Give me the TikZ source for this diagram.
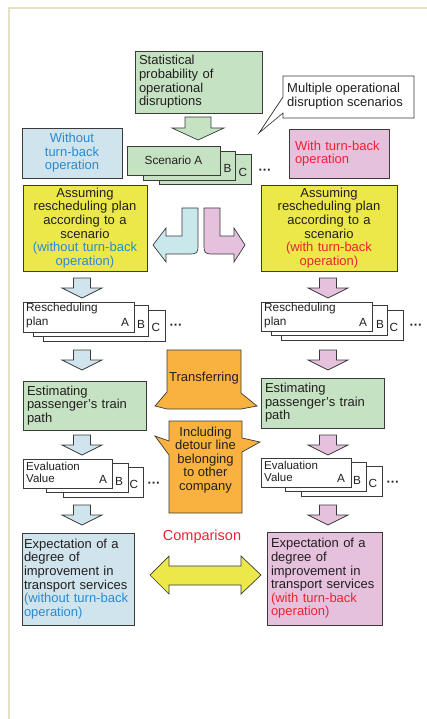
\documentclass[tikz,border=0pt]{standalone}
\usepackage{fontspec}
\setmainfont{Liberation Sans}
\usepackage{xcolor}
\usepackage{tikz}
\usetikzlibrary{positioning,calc}

\definecolor{framebeige}{HTML}{E6E1C6}
\definecolor{edge}{HTML}{3A3A3A}
\definecolor{ink}{HTML}{231F20}
\definecolor{stgreen}{HTML}{C5E3C2}
\definecolor{lblue}{HTML}{CFE4EC}
\definecolor{bentblue}{HTML}{C9E8EC}
\definecolor{lpink}{HTML}{E5C1DD}
\definecolor{yell}{HTML}{ECE84A}
\definecolor{orng}{HTML}{F9B13F}
\definecolor{tblue}{HTML}{2B8AD2}
\definecolor{tred}{HTML}{EE2233}

\newcommand{\mainfs}{\fontsize{13}{13.6}\selectfont}
\newcommand{\cardfs}{\fontsize{11.8}{13.6}\selectfont}
\newcommand{\evalfs}{\fontsize{11.5}{12}\selectfont}
% small block arrow pointing down: fill, x centre, y top
\newcommand{\blkdown}[3]{%
  \draw[blkarrow,fill=#1] (#2-8.5,#3) -- (#2+8.5,#3) -- (#2+8.5,#3+10)
    -- (#2+20,#3+10) -- (#2,#3+20) -- (#2-20,#3+10) -- (#2-8.5,#3+10) -- cycle;}

\begin{document}
\begin{tikzpicture}[x=1pt,y=-1pt,
  box/.style={draw=edge,line width=0.8pt,inner xsep=4pt,inner ysep=0pt,outer sep=0pt,
              anchor=north west,font=\mainfs,text=ink,align=left},
  card/.style={draw=edge,line width=0.8pt,inner sep=0pt,outer sep=0pt,
               anchor=north west,font=\cardfs,text=ink},
  lbl/.style={inner sep=0pt,font=\cardfs,text=ink},
  calltext/.style={inner sep=0pt,font=\mainfs,text=ink},
  dots/.style={inner sep=0pt,font=\mainfs\bfseries,text=ink},
  blkarrow/.style={draw=edge,line width=0.7pt,line join=miter}]
  \useasboundingbox (0,0) rectangle (427,719);
  \draw[framebeige,line width=1.6pt] (9,719) -- (9,8) -- (427,8);

  % top part
  \node[box,fill=stgreen,text width=119pt,minimum height=62pt] (stat) at (135,51)
    {Statistical\\probability of\\operational\\disruptions};
  \draw[blkarrow,fill=stgreen] (185,117) -- (211,117) -- (211,128) -- (224,128)
    -- (198,140) -- (172,128) -- (185,128) -- cycle;

  \draw[blkarrow,fill=white] (283,76) -- (414,76) -- (414,118) -- (283,118)
    -- (283,113) -- (259,133) -- (283,97) -- cycle;
  \node[calltext,anchor=west,align=left] (multi) at (287,96)
    {Multiple operational\\disruption scenarios};

  \node[box,fill=lblue,text=tblue,align=center,text width=92pt,minimum height=50pt] (wo)
    at (22,128) {Without\\turn-back\\operation};
  \node[box,fill=lpink,text=tred,inner xsep=6pt,text width=88pt,minimum height=49pt] (wi)
    at (289,129) {With turn-back\\operation};

  % scenarios
  \node[card,fill=stgreen,minimum width=92pt,minimum height=30pt] (scC) at (159,154) {};
  \node[card,fill=stgreen,minimum width=92pt,minimum height=29pt] (scB) at (143,151) {};
  \node[card,fill=stgreen,minimum width=93pt,minimum height=29pt] (scA) at (127,146) {Scenario A};
  \node[lbl] (scBl) at (227.5,168) {B};
  \node[lbl] (scCl) at (243,172) {C};
  \node[dots] (scD) at (265,172) {···};

  % assuming plans
  \node[box,fill=yell,align=center,text width=116pt,minimum height=86pt] (asL) at (23,185)
    {Assuming\\rescheduling plan\\according to a\\scenario\\
     \textcolor{tblue}{(without turn-back}\\\textcolor{tblue}{operation)}};
  \node[box,fill=yell,align=center,text width=128pt,minimum height=86pt] (asR) at (261,185)
    {Assuming\\rescheduling plan\\according to a\\scenario\\
     \textcolor{tred}{(with turn-back}\\\textcolor{tred}{operation)}};

  \draw[blkarrow,fill=bentblue] (182,208) -- (198,208) -- (198,243) .. controls (198,254) .. (187,254)
    -- (166,254) -- (166,262) -- (153,245) -- (166,228) -- (166,236) -- (182,236) -- cycle;
  \draw[blkarrow,fill=lpink] (220,208) -- (204,208) -- (204,243) .. controls (204,254) .. (215,254)
    -- (234,254) -- (234,262) -- (245,245) -- (234,228) -- (234,236) -- (220,236) -- cycle;

  \blkdown{lblue}{82}{278}
  \blkdown{lpink}{328}{278}

  % rescheduling plans
  \node[card,fill=white,minimum width=122pt,minimum height=31pt] (rpLC) at (43,310) {};
  \node[card,fill=white,minimum width=115pt,minimum height=31pt] (rpLB) at (33,305) {};
  \node[card,fill=white,minimum width=111pt,minimum height=30pt] (rpLA) at (23,302) {};
  \node[lbl,anchor=north west,align=left] (rpLt) at (26,303) {Rescheduling\\plan};
  \node[lbl] (rpLa) at (125,322) {A};
  \node[lbl] (rpLb) at (141,324) {B};
  \node[lbl] (rpLc) at (156,327) {C};
  \node[dots] (rpLd) at (176,327) {···};

  \node[card,fill=white,minimum width=122pt,minimum height=30pt] (rpRC) at (281,310) {};
  \node[card,fill=white,minimum width=116pt,minimum height=30pt] (rpRB) at (271,305) {};
  \node[card,fill=white,minimum width=111pt,minimum height=29pt] (rpRA) at (261,302) {};
  \node[lbl,anchor=north west,align=left] (rpRt) at (264,303) {Rescheduling\\plan};
  \node[lbl] (rpRa) at (363,322) {A};
  \node[lbl] (rpRb) at (380,324) {B};
  \node[lbl] (rpRc) at (394,327) {C};
  \node[dots] (rpRd) at (416,327) {···};

  \blkdown{lblue}{82}{350}
  \blkdown{lpink}{328}{350}

  % passenger paths
  \node[box,fill=stgreen,text width=115pt,minimum height=49pt] (estL) at (23,381)
    {Estimating\\passenger's train\\path};
  \node[box,fill=stgreen,text width=115pt,minimum height=50pt] (estR) at (261,378)
    {Estimating\\passenger's train\\path};

  \draw[blkarrow,fill=orng] (167,350) -- (241,350) -- (241,393) -- (257,406) -- (241,409)
    -- (167,409) -- (155,406) -- (167,392) -- cycle;
  \node[calltext] (transfer) at (204,378) {Transferring};
  \draw[blkarrow,fill=orng] (169,421) -- (242,421) -- (242,438) -- (260,442) -- (242,452)
    -- (242,513) -- (169,513) -- (169,455) -- (155,436) -- (169,441) -- cycle;
  \node[calltext,align=center] (detour) at (205.5,460)
    {Including\\detour line\\belonging\\to other\\company};

  \blkdown{lblue}{82}{435}
  \blkdown{lpink}{328}{435}

  % evaluation values
  \node[card,fill=white,minimum width=80pt,minimum height=30pt] (evLC) at (63,467) {};
  \node[card,fill=white,minimum width=82pt,minimum height=29pt] (evLB) at (46,463) {};
  \node[card,fill=white,minimum width=89pt,minimum height=29pt] (evLA) at (23,459) {};
  \node[lbl,font=\evalfs,anchor=north west,align=left] (evLt) at (26,462) {Evaluation\\Value};
  \node[lbl] (evLa) at (103,479) {A};
  \node[lbl] (evLb) at (119,481) {B};
  \node[lbl] (evLc) at (134,484) {C};
  \node[dots] (evLd) at (154,485) {···};

  \node[card,fill=white,minimum width=81pt,minimum height=30pt] (evRC) at (301,466) {};
  \node[card,fill=white,minimum width=81pt,minimum height=29pt] (evRB) at (285,462) {};
  \node[card,fill=white,minimum width=90pt,minimum height=29pt] (evRA) at (261,458) {};
  \node[lbl,font=\evalfs,anchor=north west,align=left] (evRt) at (264,461) {Evaluation\\Value};
  \node[lbl] (evRa) at (341,478) {A};
  \node[lbl] (evRb) at (357,480) {B};
  \node[lbl] (evRc) at (373,483) {C};
  \node[dots] (evRd) at (393,484) {···};

  \blkdown{lblue}{82}{505}
  \blkdown{lpink}{328}{505}

  % expectations and comparison
  \node[box,fill=lblue,inner xsep=2pt,text width=108pt,minimum height=92pt] (expL) at (22,533)
    {Expectation of a\\degree of\\improvement in\\transport services\\
     \textcolor{tblue}{(without turn-back}\\\textcolor{tblue}{operation)}};
  \node[box,fill=lpink,text width=107pt,minimum height=93pt] (expR) at (267,532)
    {Expectation of a\\degree of\\improvement in\\transport services\\
     \textcolor{tred}{(with turn-back}\\\textcolor{tred}{operation)}};

  \node[calltext,font=\fontsize{14.5}{15}\selectfont,text=tred] (cmp) at (202,537) {Comparison};
  \draw[blkarrow,fill=yell] (150,575) -- (169,556) -- (169,566) -- (241,566) -- (241,556)
    -- (261,575) -- (241,594) -- (241,585) -- (169,585) -- (169,594) -- cycle;
\end{tikzpicture}
\end{document}
